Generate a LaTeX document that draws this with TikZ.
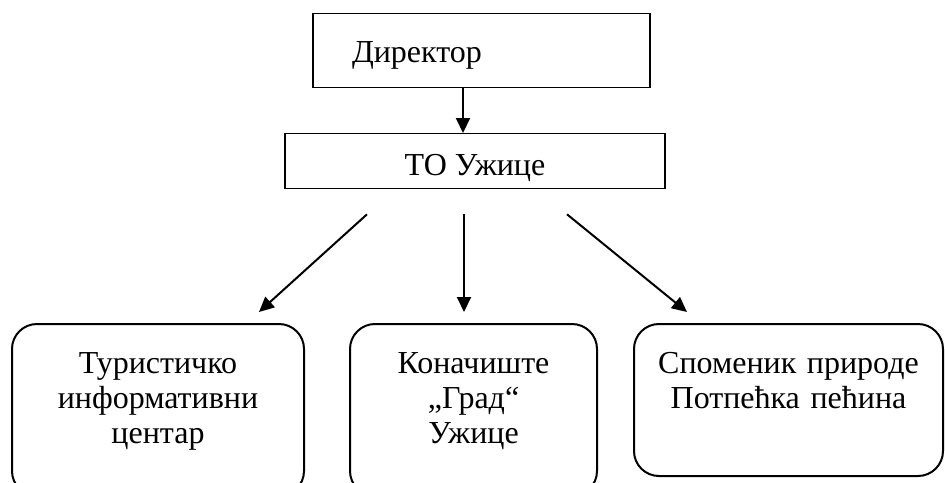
\documentclass[tikz,border=0pt]{standalone}
\usepackage{fontspec}
\setmainfont{Liberation Serif}
\usetikzlibrary{arrows.meta}

\begin{document}
\begin{tikzpicture}[x=1pt,y=-1pt,
    box/.style={draw,line width=1.3pt,inner sep=0pt,anchor=north,font=\fontsize{32}{35}\selectfont},
    unit/.style={box,rounded corners=25pt,line width=2pt,text width=#1,align=center,text height=49pt},
    link/.style={-{Triangle[length=15pt,width=14pt]},line width=2pt}]
    \useasboundingbox (0,0) rectangle (945,482);
    \clip (0,0) rectangle (945,482);
    % top of the chart
    \node[box,text width=259pt,inner xsep=39pt,align=left,text height=49pt,text depth=25pt] (dir) at (481.5,13) {Директор};
    \node[box,minimum width=380pt,text height=42pt,text depth=13pt] (to) at (475,133) {ТО Ужице};
    % units
    \node[unit=292pt,text depth=123pt] (tic) at (158,323) {Туристичко\\информативни\\центар};
    \node[unit=247pt,text depth=123pt] (kon) at (473.5,323) {Коначиште\\„Град“\\Ужице};
    \node[unit=309pt,text depth=103pt] (spo) at (788.5,323) {Споменик природе\\Потпећка пећина};
    % arrows
    \draw[link] ([xshift=-18.5pt]dir.south) -- ([xshift=-12pt]to.north);
    \foreach \a/\b/\s in {-108pt/tic/101pt, -11pt/kon/-9.5pt, 92pt/spo/-101.5pt}
        \draw[link] ([xshift=\a,yshift=-25pt]to.south) -- ([xshift=\s,yshift=11pt]\b.north);
\end{tikzpicture}
\end{document}
